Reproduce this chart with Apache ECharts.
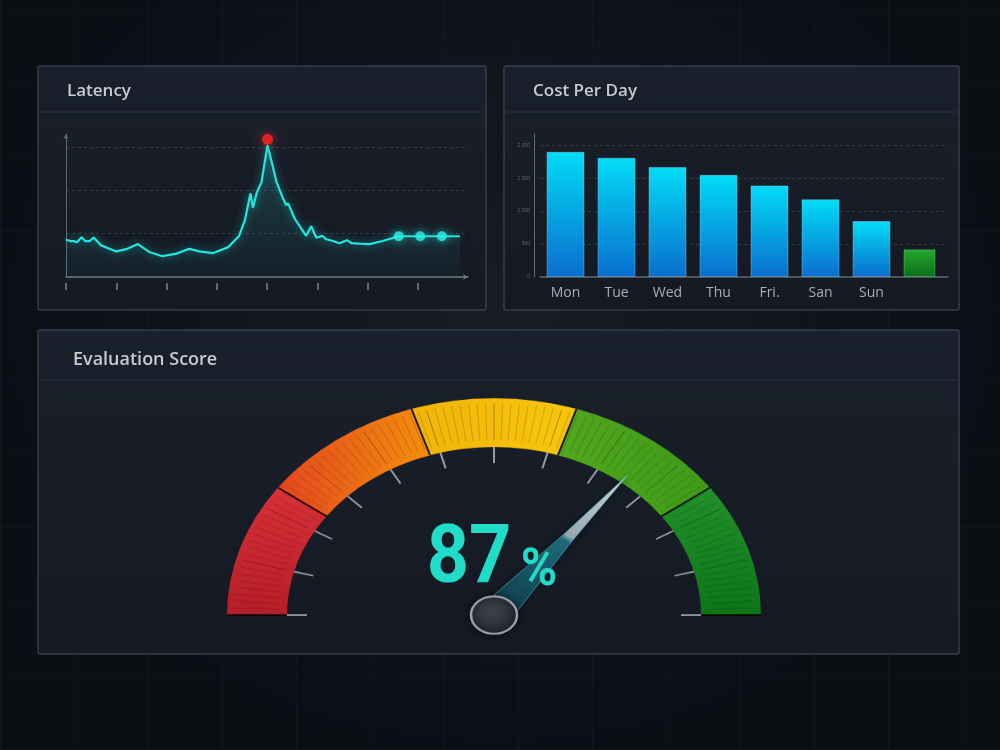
<!DOCTYPE html>
<html>
<head>
<meta charset="utf-8">
<script src="https://cdn.jsdelivr.net/npm/echarts@6/dist/echarts.min.js"></script>
<style>
  html, body { margin: 0; padding: 0; }
  body {
    width: 1000px; height: 750px; overflow: hidden; position: relative;
    background:
      radial-gradient(ellipse at 50% 42%, rgba(38, 46, 60, 0.45), rgba(0, 0, 0, 0) 72%),
      repeating-linear-gradient(90deg, rgba(255, 255, 255, 0.022) 0 1px, transparent 1px 74px),
      repeating-linear-gradient(0deg, rgba(255, 255, 255, 0.022) 0 1px, transparent 1px 74px),
      #0b0e13;
  }
  #main { position: absolute; left: 0; top: 0; width: 1000px; height: 750px; }
  /* the gauge in the picture is a flattened half circle, so squash its canvas */
  #gauge {
    position: absolute; left: 0; top: 330px; width: 1000px; height: 400px;
    transform: scaleY(0.812); transform-origin: 0 0;
  }
</style>
</head>
<body>
<div id="main"></div>
<div id="gauge"></div>
<script>
// ---- latency (x in tick units, y in ms) ----
const latencyX = [0, 0.085, 0.15, 0.22, 0.31, 0.38, 0.47, 0.55, 0.70, 1.00,
  1.22, 1.43, 1.67, 1.92, 2.20, 2.45, 2.66, 2.92, 3.23, 3.44,
  3.56, 3.67, 3.72, 3.80, 3.89, 4.01, 4.10, 4.19, 4.32, 4.38,
  4.42, 4.55, 4.68, 4.78, 4.88, 4.98, 5.05, 5.10, 5.18, 5.31,
  5.44, 5.59, 5.69, 5.84, 6.04, 6.30, 6.62, 7.05, 7.48, 7.84]
const latencyMs = [86, 83, 83, 80, 92, 83, 83, 91, 73, 59,
  65, 76, 57, 48, 54, 65, 59, 55, 69, 94,
  131, 193, 160, 196, 219, 304, 262, 219, 181, 166,
  170, 135, 112, 95, 117, 91, 93, 95, 87, 83,
  78, 85, 78, 77, 76, 83, 94, 94, 94, 94]
const latencyTicks = [0, 1, 2, 3, 4, 5, 6, 7]
const peakIndex = 25
const dotIndex = [46, 47, 48]

// ---- cost per day ----
const days = ['Mon', 'Tue', 'Wed', 'Thu', 'Fri.', 'San', 'Sun', '']
const dayCost = [1900, 1810, 1670, 1550, 1390, 1180, 850, '-']
const extraCost = ['-', '-', '-', '-', '-', '-', '-', 420]

// ---- evaluation score ----
const scorePct = 87
const needleValue = 71
const bandStops = [0.2, 0.4, 0.6, 0.8, 1]

const G = echarts.graphic
const SQUASH = 0.812

function grad(x2, y2, c1, c2) {
  return new G.LinearGradient(0, 0, x2, y2, [
    { offset: 0, color: c1 },
    { offset: 1, color: c2 }
  ])
}

function panel(x, y, w, h, lineY) {
  return [
    {
      type: 'rect', z: -10,
      shape: { x: x, y: y, width: w, height: h, r: 2 },
      style: { fill: grad(0, 1, '#1a202b', '#141922'), stroke: '#353e4c', lineWidth: 1.5 }
    },
    {
      type: 'line', z: -9,
      shape: { x1: x + 2, y1: lineY, x2: x + w - 2, y2: lineY },
      style: { stroke: '#2d3542', lineWidth: 1 }
    }
  ]
}

function heading(text, x, y, size) {
  return {
    type: 'text', x: x, y: y, z: 5,
    style: {
      text: text, fill: '#c6cad3',
      font: '600 ' + size + 'px "Open Sans", sans-serif',
      verticalAlign: 'middle', textVerticalAlign: 'middle'
    }
  }
}

const latencyData = latencyX.map((x, i) => [x, latencyMs[i]])
const dashed = { color: 'rgba(255,255,255,0.13)', type: [3, 3], width: 1 }

const main = echarts.init(document.getElementById('main'), null, { renderer: 'canvas' })
main.setOption({
  animation: false,
  graphic: [].concat(
    panel(38, 66, 448, 244, 112),
    panel(504, 66, 455, 244, 112),
    panel(38, 330, 921, 324, 380),
    [
      heading('Latency', 67, 91, 17),
      heading('Cost Per Day', 533, 91, 17),
      heading('Evaluation Score', 73, 360, 18)
    ]
  ),
  grid: [
    { left: 66, top: 134, width: 402, height: 143 },
    { left: 540, top: 134, width: 408, height: 143 }
  ],
  xAxis: [
    {
      gridIndex: 0, type: 'value', min: 0, max: 8,
      axisLine: { lineStyle: { color: '#727b88', width: 1.5 }, symbol: ['none', 'arrow'], symbolSize: [4, 5] },
      axisTick: { show: false }, axisLabel: { show: false }, splitLine: { show: false }
    },
    {
      gridIndex: 0, type: 'value', min: 0, max: 8, position: 'bottom', offset: 6,
      axisLine: { show: false },
      axisTick: { show: true, length: 7, customValues: latencyTicks, lineStyle: { color: '#7b8491', width: 1.5 } },
      axisLabel: { show: false }, splitLine: { show: false }
    },
    {
      gridIndex: 1, type: 'category', data: days,
      axisLine: { lineStyle: { color: '#5f6876', width: 1.5 } },
      axisTick: { show: false },
      axisLabel: { color: '#a7afbb', fontSize: 14, margin: 9, fontFamily: '"Open Sans", sans-serif' }
    }
  ],
  yAxis: [
    {
      gridIndex: 0, type: 'value', min: 0, max: 330, interval: 100,
      axisLine: { show: true, lineStyle: { color: '#5f6875', width: 1 }, symbol: ['none', 'arrow'], symbolSize: [4, 5] },
      axisTick: { show: false }, axisLabel: { show: false },
      splitLine: { show: true, showMinLine: false, showMaxLine: false, lineStyle: dashed }
    },
    {
      gridIndex: 1, type: 'value', min: 0, max: 2170, interval: 500, offset: 6,
      axisLine: { show: true, lineStyle: { color: '#5f6876', width: 1 } },
      axisTick: { show: false },
      axisLabel: { color: '#5c6471', fontSize: 5, margin: 4, showMaxLabel: false },
      splitLine: { show: true, showMinLine: false, showMaxLine: false, lineStyle: dashed }
    }
  ],
  series: [
    {
      type: 'line', xAxisIndex: 0, yAxisIndex: 0,
      data: latencyData, showSymbol: false, smooth: false,
      lineStyle: { color: '#22e6df', width: 2.2, shadowBlur: 8, shadowColor: 'rgba(34,230,223,0.55)' },
      areaStyle: { color: grad(0, 1, 'rgba(38,190,188,0.30)', 'rgba(38,190,188,0.05)') },
      z: 3
    },
    {
      type: 'scatter', xAxisIndex: 0, yAxisIndex: 0,
      data: dotIndex.map(i => latencyData[i]),
      symbolSize: 10,
      itemStyle: { color: '#2cf0e6', shadowBlur: 10, shadowColor: 'rgba(44,240,230,0.8)' },
      z: 4
    },
    {
      type: 'scatter', xAxisIndex: 0, yAxisIndex: 0,
      data: [latencyData[peakIndex]],
      symbolSize: 11, symbolOffset: [0, -6],
      itemStyle: { color: '#ff2424', shadowBlur: 10, shadowColor: 'rgba(255,40,40,0.8)' },
      z: 5
    },
    {
      type: 'bar', xAxisIndex: 2, yAxisIndex: 1,
      data: extraCost, barWidth: 32, barGap: '-100%',
      itemStyle: { color: grad(0, 1, '#22a82c', '#0f6e1e'), borderColor: 'rgba(120,230,120,0.35)', borderWidth: 1 }
    },
    {
      type: 'bar', xAxisIndex: 2, yAxisIndex: 1,
      data: dayCost, barWidth: 38, barGap: '-100%',
      itemStyle: { color: grad(0, 1, '#02dcf6', '#0a6ecf'), borderColor: 'rgba(140,225,255,0.35)', borderWidth: 1 }
    }
  ]
})

// ---- gauge ----
const bandColors = [
  grad(0, 1, '#d9303a', '#b61e27'),
  grad(1, 0, '#e3461f', '#f3900c'),
  grad(1, 0, '#f2b407', '#f7c60c'),
  grad(1, 0, '#52a81d', '#3d9a19'),
  grad(0, 1, '#23902a', '#0d7619')
]
const gaugeCenter = [494, 351]
const gaugeRadius = 267
const bandWidth = 60

const gauge = echarts.init(document.getElementById('gauge'), null, { renderer: 'canvas' })
gauge.setOption({
  animation: false,
  series: [
    {
      // dark seams between the colour bands
      type: 'gauge', center: gaugeCenter, radius: gaugeRadius,
      startAngle: 180, endAngle: 0, min: 0, max: 100, splitNumber: bandStops.length,
      axisLine: { show: false, lineStyle: { width: bandWidth } },
      axisTick: { show: false },
      splitLine: { distance: -bandWidth, length: bandWidth, lineStyle: { color: 'rgba(10,5,2,0.85)', width: 2 } },
      axisLabel: { show: false },
      pointer: { show: false },
      anchor: { show: false },
      title: { show: false },
      detail: { show: false },
      data: [{ value: 0 }],
      z: 4
    },
    {
      type: 'gauge', center: gaugeCenter, radius: gaugeRadius,
      startAngle: 180, endAngle: 0, min: 0, max: 100, splitNumber: 12,
      axisLine: { lineStyle: { width: bandWidth, color: bandStops.map((s, i) => [s, bandColors[i]]) } },
      axisTick: { splitNumber: 8, distance: -54, length: 46, lineStyle: { color: 'rgba(0,0,0,0.16)', width: 1 } },
      splitLine: { distance: 0, length: 20, lineStyle: { color: '#959da7', width: 2 } },
      axisLabel: { show: false },
      pointer: {
        icon: 'path://M17 0 L23 46 L34 100 L0 100 L11 46 Z',
        length: '82%', width: 34, offsetCenter: [0, 0],
        itemStyle: {
          color: new G.LinearGradient(0, 0, 0, 1, [
            { offset: 0, color: '#dde4ea' },
            { offset: 0.44, color: '#9aabb6' },
            { offset: 0.47, color: '#1f6b7b' },
            { offset: 1, color: '#0f3a48' }
          ]),
          borderColor: 'rgba(90,200,210,0.5)', borderWidth: 1,
          shadowBlur: 6, shadowColor: 'rgba(0,0,0,0.5)'
        }
      },
      anchor: {
        show: true, showAbove: true, size: 46,
        itemStyle: {
          color: new G.RadialGradient(0.45, 0.4, 0.7, [
            { offset: 0, color: '#40454d' },
            { offset: 1, color: '#1f2329' }
          ]),
          borderColor: '#9aa2ab', borderWidth: 2.5,
          shadowBlur: 8, shadowColor: 'rgba(0,0,0,0.6)'
        }
      },
      title: { show: false },
      detail: { show: false },
      data: [{ value: needleValue }],
      z: 2
    }
  ],
  graphic: [
    {
      type: 'text', x: 469, y: (561 - 330) / SQUASH, scaleX: 0.9, scaleY: 1 / SQUASH, z: 100,
      style: {
        text: String(scorePct), fill: '#20dcc9',
        font: '700 82px Roboto, sans-serif',
        align: 'center', textAlign: 'center', verticalAlign: 'middle', textVerticalAlign: 'middle'
      }
    },
    {
      type: 'text', x: 539, y: (572 - 330) / SQUASH, scaleX: 0.95, scaleY: 1 / SQUASH, z: 100,
      style: {
        text: '%', fill: '#20dcc9',
        font: '700 52px Roboto, sans-serif',
        align: 'center', textAlign: 'center', verticalAlign: 'middle', textVerticalAlign: 'middle'
      }
    }
  ]
})
</script>
</body>
</html>
